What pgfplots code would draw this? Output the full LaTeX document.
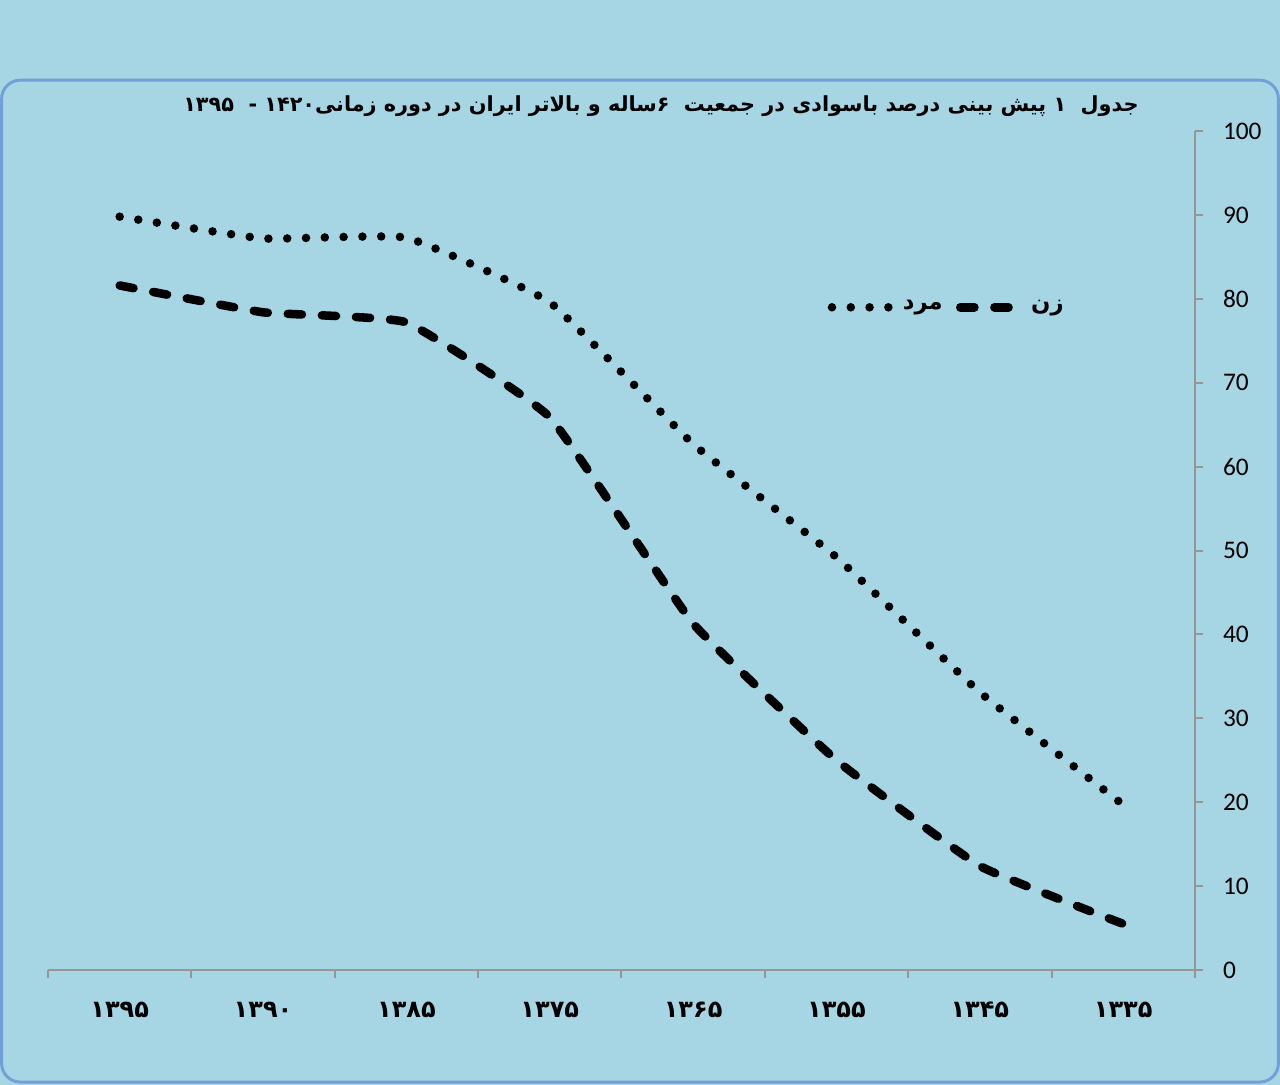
\documentclass[border=0pt]{standalone}
\usepackage{pgfplots}
\pgfplotsset{compat=1.18}
\usepackage{fontspec}
\setmainfont{Carlito}
\TeXXeTstate=1
\newfontfamily\fa[Script=Arabic]{DejaVu Sans}
\definecolor{bg}{RGB}{166,213,228}
\definecolor{framec}{RGB}{112,160,215}
\definecolor{axgray}{RGB}{150,150,150}
\pgfplotstableread{
x men women
0 89.8 81.6
1 87.2 78.4
2 87.3 77.2
3 79.6 65.9
4 62.7 41.3
5 49.2 25.0
6 33.1 12.4
7 19.7 5.5
}\lit
\begin{document}
\begin{tikzpicture}
\useasboundingbox (0,0) rectangle (480pt,406.875pt);
\fill[bg] (0,0) rectangle (480pt,406.875pt);
\draw[framec, line width=1.1pt, rounded corners=7pt] (0.6pt,1.1pt) rectangle (479.4pt,376.8pt);
\node[font=\fa\bfseries\fontsize{7.8}{10}\selectfont, inner sep=0pt] at (247.9pt,367.0pt) {\beginR جدول\ \ ۱ پیش بینی درصد باسوادی در جمعیت\ \ ۶ساله و بالاتر ایران در دوره زمانی۱۴۲۰ -\ \ ۱۳۹۵\endR};
\begin{axis}[
  scale only axis, width=430.1pt, height=314.6pt,
  at={(18pt,43.1pt)}, anchor=south west,
  xmin=-0.5, xmax=7.5, ymin=0, ymax=100,
  axis x line=bottom, axis y line=right,
  axis line style={axgray, line width=0.75pt, -},
  tick align=outside,
  xtick={0,...,7},
  xticklabels={۱۳۹۵,۱۳۹۰,۱۳۸۵,۱۳۷۵,۱۳۶۵,۱۳۵۵,۱۳۴۵,۱۳۳۵},
  major x tick style={draw=none},
  minor xtick={-0.5,0.5,...,7.5},
  minor tick length=3pt, major tick length=3pt,
  every tick/.style={axgray, line width=0.75pt},
  ytick={0,10,...,100},
  /pgf/number format/assume math mode=true,
  yticklabel style={font=\fontsize{9.5}{11}\selectfont, xshift=4pt},
  xticklabel style={font=\fa\bfseries\fontsize{9}{10}\selectfont, yshift=-5.5pt},
  legend columns=2,
  legend style={draw=none, fill=none, at={(0.785,0.79)}, anchor=center,
    font=\fa\bfseries\fontsize{8.5}{10}\selectfont,
    /tikz/every even column/.append style={column sep=3pt}},
  legend image code/.code={\draw[#1] (0pt,0pt) -- (23pt,0pt);},
]
\addplot[black, line width=3.2pt, line cap=round, dash pattern=on 0pt off 7.05pt, smooth, tension=0.2] table[x=x,y=men]{\lit};
\addlegendentry{مرد}
\addplot[black, line width=3.2pt, line cap=round, dash pattern=on 5.3pt off 7.5pt, smooth, tension=0.2] table[x=x,y=women]{\lit};
\addlegendentry{زن}
\end{axis}
\end{tikzpicture}
\end{document}
